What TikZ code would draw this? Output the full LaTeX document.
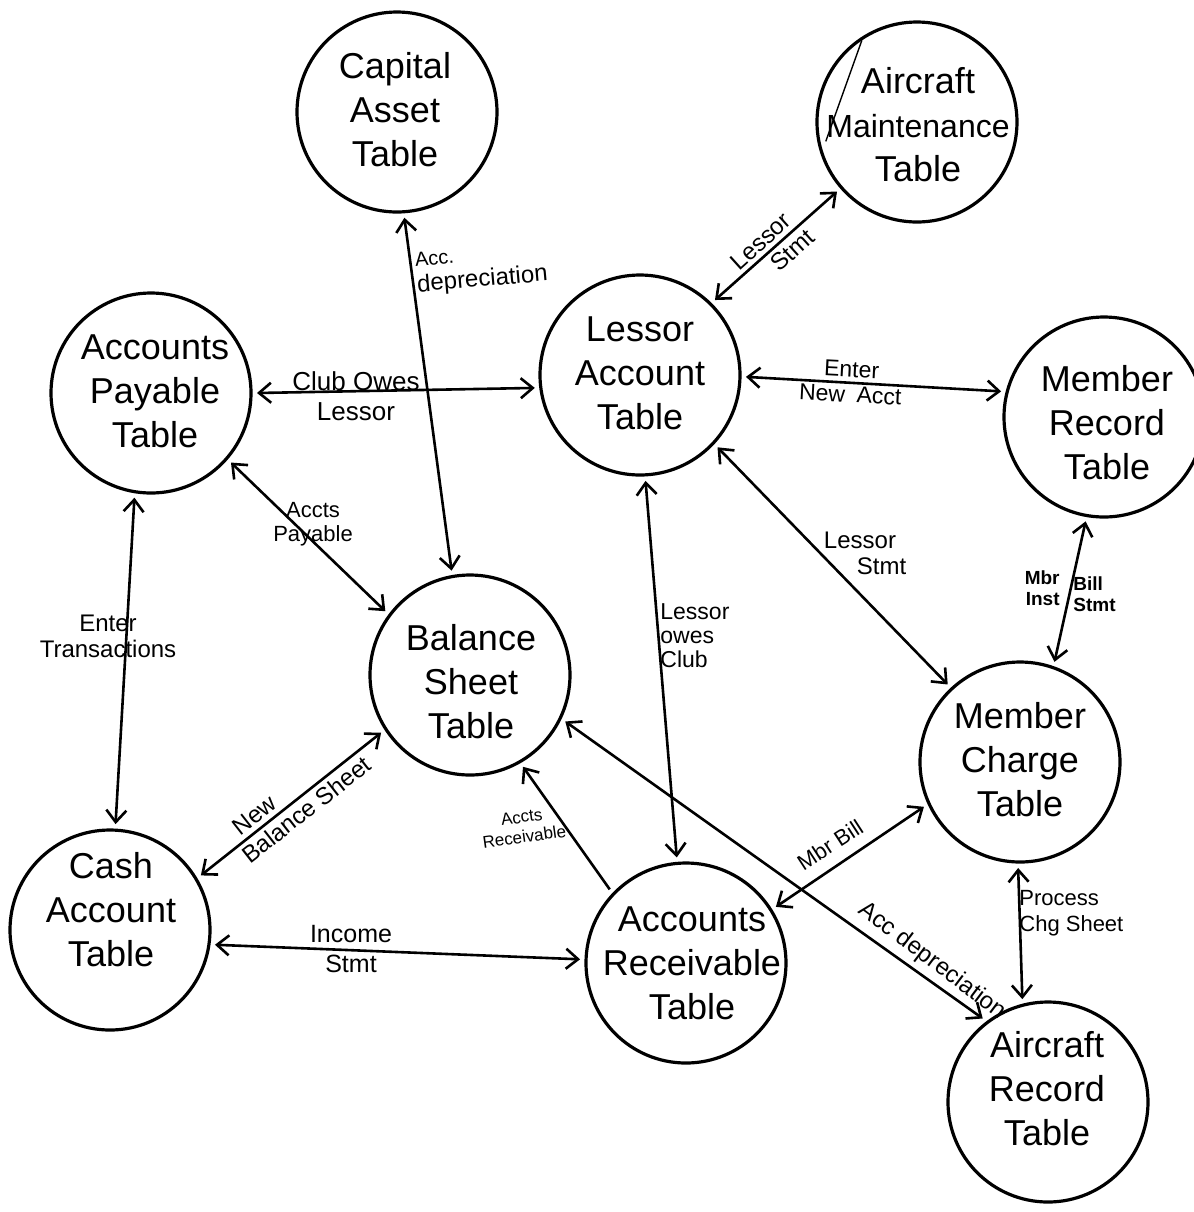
\documentclass[tikz,border=0pt]{standalone}
\usepackage{fontspec}
\setmainfont{Liberation Sans}
\usetikzlibrary{arrows.meta,calc}
\begin{document}
\begin{tikzpicture}[x=0.5pt,y=-0.5pt,
  tbl/.style={circle, draw, line width=1.6pt, minimum size=100pt, inner sep=0pt, outer sep=3pt},
  ttxt/.style={align=center, inner sep=0pt, font=\fontsize{18}{22}\selectfont},
  lbl/.style={align=center, inner sep=1pt, font=\fontsize{12}{13}\selectfont},
  slbl/.style={align=center, inner sep=1pt, font=\fontsize{9.5}{10.5}\selectfont\bfseries},
  link/.style={line width=1.3pt, >={Straight Barb[length=6pt,width=10pt]}, <->},
  onelink/.style={line width=1.3pt, >={Straight Barb[length=6pt,width=10pt]}, ->},
  ]
\useasboundingbox (0,0) rectangle (1194,1212);
\fill[white] (0,0) rectangle (1194,1212);

% tables
\node[tbl] (cap) at (397,112) {};
\node[tbl] (am) at (917,122) {};
\node[tbl] (ap) at (151,393) {};
\node[tbl] (les) at (640,375) {};
\node[tbl] (mr) at (1104,417) {};
\node[tbl] (bal) at (470,675) {};
\node[tbl] (mc) at (1020,762) {};
\node[tbl] (cash) at (110,930) {};
\node[tbl] (ar) at (686,963) {};
\node[tbl] (acr) at (1048,1102) {};

\node[ttxt] (capt) at (395,110) {Capital\\Asset\\Table};
\node[ttxt] (amt) at (918,125) {Aircraft\\{\fontsize{16}{22}\selectfont Maintenance}\\Table};
\node[ttxt] (apt) at (155,391) {Accounts\\Payable\\Table};
\node[ttxt] (lest) at (640,373) {Lessor\\Account\\Table};
\node[ttxt] (mrt) at (1107,423) {Member\\Record\\Table};
\node[ttxt] (balt) at (471,682) {Balance\\Sheet\\Table};
\node[ttxt] (mct) at (1020,760) {Member\\Charge\\Table};
\node[ttxt] (casht) at (111,910) {Cash\\Account\\Table};
\node[ttxt] (art) at (692,963) {Accounts\\Receivable\\Table};
\node[ttxt] (acrt) at (1047,1089) {Aircraft\\Record\\Table};

% stray pen mark inside the maintenance circle
\draw[line width=0.7pt] ($(am.center)!0.93!(am.124)$) -- ($(am.center)!0.88!(am.192)$);

% connectors
\draw[link] (cap.-86) -- (bal.100);
\draw[link] (ap.0) -- (les.187);
\draw[link] (ap.-41) -- (bal.143);
\draw[link] (ap.-99) -- (cash.87);
\draw[link] (am.-139) -- (les.45);
\draw[link] (les.-1) -- (mr.166);
\draw[link] (les.-43) -- (mc.133);
\draw[link] (mr.-100) -- (mc.71);
\draw[link] (les.-87) -- (ar.95);
\draw[link] (bal.-147) -- (cash.31);
\draw[link] (cash.-8) -- (ar.178);
\draw[onelink] (ar.136) -- (bal.-60);
\draw[link] (bal.-26) -- (acr.128);
\draw[link] (mc.205) -- (ar.32);
\draw[link] (mc.-91) -- (acr.104);

% labels
\node[lbl, anchor=west, align=left, rotate=5] (l1) at (414,275) {{\fontsize{10}{11}\selectfont Acc.}\\depreciation};
\node[lbl, font=\fontsize{13}{15}\selectfont] (l2) at (356,396) {Club Owes\\Lessor};
\node[lbl, font=\fontsize{11}{12}\selectfont] (l3) at (313,524) {Accts\\Payable};
\node[lbl] (l4) at (108,636) {Enter\\Transactions};
\node[lbl, rotate=42, font=\fontsize{12}{14}\selectfont] (l5) at (770,252) {Lessor\\\hspace*{1.5em}Stmt};
\node[lbl, rotate=-3, font=\fontsize{11.5}{12.5}\selectfont] (l6) at (851,382) {Enter\\New\enspace Acct};
\node[lbl] (l7) at (860,553) {Lessor\\\hspace*{1.8em}Stmt};
\node[slbl, anchor=east, align=right] (l8a) at (1062,588) {Mbr\\Inst};
\node[slbl, anchor=west, align=left] (l8b) at (1071,594) {Bill\\Stmt};
\node[lbl, anchor=west, align=left, font=\fontsize{11.5}{12}\selectfont] (l9) at (658,636) {Lessor\\owes\\Club};
\node[lbl, rotate=38, align=left, font=\fontsize{12}{14}\selectfont] (l10) at (298,799) {\hspace*{0.4em}New\\Balance Sheet};
\node[lbl, font=\fontsize{12.5}{15}\selectfont] (l11) at (351,949) {Income\\Stmt};
\node[slbl, rotate=8, font=\fontsize{8.5}{10}\selectfont] (l12) at (523,827) {Accts\\Receivable};
\node[slbl, rotate=33, font=\fontsize{11}{12}\selectfont] (l13) at (830,845) {Mbr Bill};
\node[lbl, rotate=-37] (l14) at (932,961) {Acc depreciation};
\node[lbl, anchor=west, align=left, font=\fontsize{11}{13}\selectfont] (l15) at (1017,913) {Process\\Chg Sheet};
\end{tikzpicture}
\end{document}
